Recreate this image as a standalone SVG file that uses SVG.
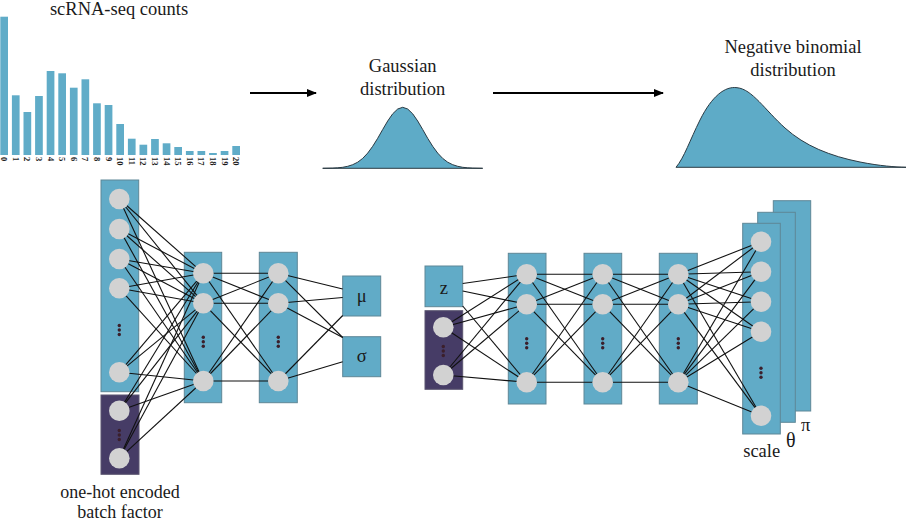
<svg xmlns="http://www.w3.org/2000/svg" width="908" height="522" viewBox="0 0 908 522" font-family="'Liberation Serif', 'Times New Roman', Tinos, 'DejaVu Serif', serif">
<defs>
<style>
text{font-family:'Liberation Serif','Times New Roman',Tinos,'DejaVu Serif',serif}
.t{fill:#1a1a1a;font-size:18.5px;text-anchor:middle}
.tick{font-weight:bold;font-size:8.5px;fill:#1a1a1a;dominant-baseline:central}
.bar{fill:#60acc8}
.lay{fill:#61abc7;stroke:#5e8797;stroke-width:1}
.bat{fill:#463c66;stroke:#5a5570;stroke-width:1}
.nd{fill:#d2d2d2}
.dt{fill:#3b1f2b}
.cn line{stroke:#111;stroke-width:1.1}
.dist{fill:#5eabc7;stroke:#2b3b44;stroke-width:1}
</style>
<marker id="ah" markerWidth="10" markerHeight="8" refX="9" refY="4" orient="auto" markerUnits="userSpaceOnUse">
<path d="M0,0 L10,4 L0,8 Z" fill="#000"/>
</marker>
<g id="dots"><circle class="dt" cx="0" cy="-4.5" r="1.7"/><circle class="dt" cx="0" cy="0" r="1.7"/><circle class="dt" cx="0" cy="4.5" r="1.7"/></g>
</defs>
<rect width="908" height="522" fill="#fff"/>

<g id="histogram">
<text class="t" x="119" y="14.5">scRNA-seq counts</text>
<rect class="bar" x="0.3" y="16.7" width="7.7" height="138.3"/>
<rect class="bar" x="11.9" y="95.3" width="7.7" height="59.7"/>
<rect class="bar" x="23.5" y="112" width="7.7" height="43"/>
<rect class="bar" x="35.1" y="96" width="7.7" height="59"/>
<rect class="bar" x="46.7" y="71" width="7.7" height="84"/>
<rect class="bar" x="58.3" y="73.3" width="7.7" height="81.7"/>
<rect class="bar" x="69.9" y="87.7" width="7.7" height="67.3"/>
<rect class="bar" x="81.5" y="79.3" width="7.7" height="75.7"/>
<rect class="bar" x="93.1" y="103.3" width="7.7" height="51.7"/>
<rect class="bar" x="104.7" y="105" width="7.7" height="50"/>
<rect class="bar" x="116.3" y="124" width="7.7" height="31"/>
<rect class="bar" x="127.9" y="138.7" width="7.7" height="16.3"/>
<rect class="bar" x="139.5" y="144.7" width="7.7" height="10.3"/>
<rect class="bar" x="151.1" y="139" width="7.7" height="16"/>
<rect class="bar" x="162.7" y="143.3" width="7.7" height="11.7"/>
<rect class="bar" x="174.3" y="147" width="7.7" height="8"/>
<rect class="bar" x="185.9" y="151" width="7.7" height="4"/>
<rect class="bar" x="197.5" y="151" width="7.7" height="4"/>
<rect class="bar" x="209.1" y="153" width="7.7" height="2"/>
<rect class="bar" x="220.7" y="151" width="7.7" height="4"/>
<rect class="bar" x="232.3" y="146" width="7.7" height="9"/>
<g class="tick">
<text class="tick" transform="translate(4.2,157) rotate(90)">0</text>
<text class="tick" transform="translate(15.8,157) rotate(90)">1</text>
<text class="tick" transform="translate(27.4,157) rotate(90)">2</text>
<text class="tick" transform="translate(39,157) rotate(90)">3</text>
<text class="tick" transform="translate(50.6,157) rotate(90)">4</text>
<text class="tick" transform="translate(62.2,157) rotate(90)">5</text>
<text class="tick" transform="translate(73.8,157) rotate(90)">6</text>
<text class="tick" transform="translate(85.4,157) rotate(90)">7</text>
<text class="tick" transform="translate(97,157) rotate(90)">8</text>
<text class="tick" transform="translate(108.6,157) rotate(90)">9</text>
<text class="tick" transform="translate(120.2,157) rotate(90)">10</text>
<text class="tick" transform="translate(131.8,157) rotate(90)">11</text>
<text class="tick" transform="translate(143.4,157) rotate(90)">12</text>
<text class="tick" transform="translate(155,157) rotate(90)">13</text>
<text class="tick" transform="translate(166.6,157) rotate(90)">14</text>
<text class="tick" transform="translate(178.2,157) rotate(90)">15</text>
<text class="tick" transform="translate(189.8,157) rotate(90)">16</text>
<text class="tick" transform="translate(201.4,157) rotate(90)">17</text>
<text class="tick" transform="translate(213,157) rotate(90)">18</text>
<text class="tick" transform="translate(224.6,157) rotate(90)">19</text>
<text class="tick" transform="translate(236.2,157) rotate(90)">20</text>
</g>
</g>

<g id="gaussian">
<text class="t" x="402.7" y="72">Gaussian</text>
<text class="t" x="402.7" y="95">distribution</text>
<path class="dist" d="M322.7,168.3 L332.7,168.1 L337.7,167.8 L342.7,167.3 L347.7,166.3 L352.7,164.7 L357.7,162.2 L362.7,158.4 L367.7,153.1 L372.7,146.3 L377.7,138.3 L382.7,129.5 L387.7,121 L392.7,113.8 L397.7,109 L402.7,107.3 L407.7,109 L412.7,113.8 L417.7,121 L422.7,129.5 L427.7,138.3 L432.7,146.3 L437.7,153.1 L442.7,158.4 L447.7,162.2 L452.7,164.7 L457.7,166.3 L462.7,167.3 L467.7,167.8 L472.7,168.1 L482.7,168.3 Z" stroke-linejoin="round"/>
</g>

<g id="negbinom">
<text class="t" x="793" y="53">Negative binomial</text>
<text class="t" x="793" y="76">distribution</text>
<path class="dist" d="M676,167.3 C684,158 690,140 700,120 C712,96 725,86 737,87.7 C752,89 765,110 785,128 C805,146 830,156 860,162 C880,166 895,167 906,167.3 Z"/>
</g>

<g id="flow-arrows" stroke="#000" stroke-width="2">
<line x1="250" y1="93" x2="316" y2="93" marker-end="url(#ah)"/>
<line x1="493" y1="93" x2="663" y2="93" marker-end="url(#ah)"/>
</g>

<g id="enc-input"><rect class="lay" x="101" y="180" width="37.7" height="211.7"/></g>
<g id="enc-batch"><rect class="bat" x="101" y="395" width="38" height="79.3"/></g>
<g id="enc-h1"><rect class="lay" x="184.3" y="252.3" width="37.4" height="150.4"/></g>
<g id="enc-h2"><rect class="lay" x="259.3" y="252.3" width="38" height="150.4"/></g>
<g id="mu"><rect class="lay" x="342.7" y="276" width="38" height="40"/><text class="t" x="361.7" y="302">μ</text></g>
<g id="sigma"><rect class="lay" x="342.7" y="336.7" width="38" height="40"/><text class="t" x="361.7" y="362">σ</text></g>
<g id="z"><rect class="lay" x="425" y="266" width="37.7" height="40.7"/><text class="t" x="443.8" y="294">z</text></g>
<g id="dec-batch"><rect class="bat" x="425" y="310.7" width="37.7" height="78.6"/></g>
<g id="dec-h1"><rect class="lay" x="508.3" y="253.3" width="37.7" height="150.7"/></g>
<g id="dec-h2"><rect class="lay" x="584" y="253.3" width="37.7" height="150.7"/></g>
<g id="dec-h3"><rect class="lay" x="659.3" y="253.3" width="38" height="150.7"/></g>
<g id="out-pi"><rect class="lay" x="773.3" y="200.7" width="37.4" height="210.3"/></g>
<g id="out-theta"><rect class="lay" x="757.7" y="212.3" width="37.6" height="210"/></g>
<g id="out-scale"><rect class="lay" x="742.7" y="223.3" width="37.6" height="210.7"/></g>

<g id="connectors" class="cn">
<line x1="119.3" y1="199" x2="203.3" y2="273.3"/><line x1="119.3" y1="199" x2="203.3" y2="303.3"/><line x1="119.3" y1="199" x2="203.3" y2="381"/>
<line x1="119.3" y1="229" x2="203.3" y2="273.3"/><line x1="119.3" y1="229" x2="203.3" y2="303.3"/><line x1="119.3" y1="229" x2="203.3" y2="381"/>
<line x1="119.3" y1="259" x2="203.3" y2="273.3"/><line x1="119.3" y1="259" x2="203.3" y2="303.3"/><line x1="119.3" y1="259" x2="203.3" y2="381"/>
<line x1="119.3" y1="288.3" x2="203.3" y2="273.3"/><line x1="119.3" y1="288.3" x2="203.3" y2="303.3"/><line x1="119.3" y1="288.3" x2="203.3" y2="381"/>
<line x1="119.3" y1="372.3" x2="203.3" y2="273.3"/><line x1="119.3" y1="372.3" x2="203.3" y2="303.3"/><line x1="119.3" y1="372.3" x2="203.3" y2="381"/>
<line x1="119.3" y1="410.7" x2="203.3" y2="273.3"/><line x1="119.3" y1="410.7" x2="203.3" y2="303.3"/><line x1="119.3" y1="410.7" x2="203.3" y2="381"/>
<line x1="119.3" y1="458.3" x2="203.3" y2="273.3"/><line x1="119.3" y1="458.3" x2="203.3" y2="303.3"/><line x1="119.3" y1="458.3" x2="203.3" y2="381"/>
<line x1="203.3" y1="273.3" x2="278.3" y2="273.3"/><line x1="203.3" y1="273.3" x2="278.3" y2="303.3"/><line x1="203.3" y1="273.3" x2="278.3" y2="381"/>
<line x1="203.3" y1="303.3" x2="278.3" y2="273.3"/><line x1="203.3" y1="303.3" x2="278.3" y2="303.3"/><line x1="203.3" y1="303.3" x2="278.3" y2="381"/>
<line x1="203.3" y1="381" x2="278.3" y2="273.3"/><line x1="203.3" y1="381" x2="278.3" y2="303.3"/><line x1="203.3" y1="381" x2="278.3" y2="381"/>
<line x1="278.3" y1="273.3" x2="342.7" y2="289"/><line x1="278.3" y1="303.3" x2="342.7" y2="297.5"/><line x1="278.3" y1="381" x2="342.7" y2="315.5"/>
<line x1="278.3" y1="273.3" x2="342.7" y2="337.5"/><line x1="278.3" y1="303.3" x2="342.7" y2="337.5"/><line x1="278.3" y1="381" x2="342.7" y2="361.7"/>
<line x1="462.7" y1="283.5" x2="526.7" y2="274.3"/><line x1="462.7" y1="291" x2="526.7" y2="304.3"/><line x1="462.7" y1="306" x2="526.7" y2="382.3"/>
<line x1="443.3" y1="327.3" x2="526.7" y2="274.3"/><line x1="443.3" y1="327.3" x2="526.7" y2="304.3"/><line x1="443.3" y1="327.3" x2="526.7" y2="382.3"/>
<line x1="443.3" y1="375" x2="526.7" y2="274.3"/><line x1="443.3" y1="375" x2="526.7" y2="304.3"/><line x1="443.3" y1="375" x2="526.7" y2="382.3"/>
<line x1="526.7" y1="274.3" x2="602.7" y2="274.3"/><line x1="526.7" y1="274.3" x2="602.7" y2="304.3"/><line x1="526.7" y1="274.3" x2="602.7" y2="382.3"/>
<line x1="526.7" y1="304.3" x2="602.7" y2="274.3"/><line x1="526.7" y1="304.3" x2="602.7" y2="304.3"/><line x1="526.7" y1="304.3" x2="602.7" y2="382.3"/>
<line x1="526.7" y1="382.3" x2="602.7" y2="274.3"/><line x1="526.7" y1="382.3" x2="602.7" y2="304.3"/><line x1="526.7" y1="382.3" x2="602.7" y2="382.3"/>
<line x1="602.7" y1="274.3" x2="678.3" y2="274.3"/><line x1="602.7" y1="274.3" x2="678.3" y2="304.3"/><line x1="602.7" y1="274.3" x2="678.3" y2="382.3"/>
<line x1="602.7" y1="304.3" x2="678.3" y2="274.3"/><line x1="602.7" y1="304.3" x2="678.3" y2="304.3"/><line x1="602.7" y1="304.3" x2="678.3" y2="382.3"/>
<line x1="602.7" y1="382.3" x2="678.3" y2="274.3"/><line x1="602.7" y1="382.3" x2="678.3" y2="304.3"/><line x1="602.7" y1="382.3" x2="678.3" y2="382.3"/>
<line x1="678.3" y1="274.3" x2="761" y2="241.7"/><line x1="678.3" y1="274.3" x2="761" y2="271.7"/><line x1="678.3" y1="274.3" x2="761" y2="301.7"/><line x1="678.3" y1="274.3" x2="761" y2="331.7"/><line x1="678.3" y1="274.3" x2="761" y2="415.7"/>
<line x1="678.3" y1="304.3" x2="761" y2="241.7"/><line x1="678.3" y1="304.3" x2="761" y2="271.7"/><line x1="678.3" y1="304.3" x2="761" y2="301.7"/><line x1="678.3" y1="304.3" x2="761" y2="331.7"/><line x1="678.3" y1="304.3" x2="761" y2="415.7"/>
<line x1="678.3" y1="382.3" x2="761" y2="241.7"/><line x1="678.3" y1="382.3" x2="761" y2="271.7"/><line x1="678.3" y1="382.3" x2="761" y2="301.7"/><line x1="678.3" y1="382.3" x2="761" y2="331.7"/><line x1="678.3" y1="382.3" x2="761" y2="415.7"/>
</g>

<g id="enc-input-nodes">
<circle class="nd" cx="119.3" cy="199" r="10.3"/><circle class="nd" cx="119.3" cy="229" r="10.3"/><circle class="nd" cx="119.3" cy="259" r="10.3"/><circle class="nd" cx="119.3" cy="288.3" r="10.3"/><use href="#dots" x="119.3" y="330"/><circle class="nd" cx="119.3" cy="372.3" r="10.3"/>
</g>
<g id="enc-batch-nodes">
<circle class="nd" cx="119.3" cy="410.7" r="10.3"/><use href="#dots" x="119.3" y="435"/><circle class="nd" cx="119.3" cy="458.3" r="10.3"/>
</g>
<g id="enc-h1-nodes">
<circle class="nd" cx="203.3" cy="273.3" r="10.3"/><circle class="nd" cx="203.3" cy="303.3" r="10.3"/><use href="#dots" x="203.3" y="341.7"/><circle class="nd" cx="203.3" cy="381" r="10.3"/>
</g>
<g id="enc-h2-nodes">
<circle class="nd" cx="278.3" cy="273.3" r="10.3"/><circle class="nd" cx="278.3" cy="303.3" r="10.3"/><use href="#dots" x="278.3" y="341.7"/><circle class="nd" cx="278.3" cy="381" r="10.3"/>
</g>
<g id="dec-batch-nodes">
<circle class="nd" cx="443.3" cy="327.3" r="10.3"/><use href="#dots" x="443.3" y="351"/><circle class="nd" cx="443.3" cy="375" r="10.3"/>
</g>
<g id="dec-h1-nodes">
<circle class="nd" cx="526.7" cy="274.3" r="10.3"/><circle class="nd" cx="526.7" cy="304.3" r="10.3"/><use href="#dots" x="526.7" y="343.3"/><circle class="nd" cx="526.7" cy="382.3" r="10.3"/>
</g>
<g id="dec-h2-nodes">
<circle class="nd" cx="602.7" cy="274.3" r="10.3"/><circle class="nd" cx="602.7" cy="304.3" r="10.3"/><use href="#dots" x="602.7" y="343.3"/><circle class="nd" cx="602.7" cy="382.3" r="10.3"/>
</g>
<g id="dec-h3-nodes">
<circle class="nd" cx="678.3" cy="274.3" r="10.3"/><circle class="nd" cx="678.3" cy="304.3" r="10.3"/><use href="#dots" x="678.3" y="343.3"/><circle class="nd" cx="678.3" cy="382.3" r="10.3"/>
</g>
<g id="out-scale-nodes">
<circle class="nd" cx="761" cy="241.7" r="10.3"/><circle class="nd" cx="761" cy="271.7" r="10.3"/><circle class="nd" cx="761" cy="301.7" r="10.3"/><circle class="nd" cx="761" cy="331.7" r="10.3"/><use href="#dots" x="761" y="372.7"/><circle class="nd" cx="761" cy="415.7" r="10.3"/>
</g>

<g id="labels">
<text class="t" x="120" y="497.5" style="font-size:18px">one-hot encoded</text>
<text class="t" x="120" y="517.5" style="font-size:18px">batch factor</text>
<text class="t" x="761.7" y="457">scale</text>
<text class="t" x="790.7" y="447" style="font-size:20px">θ</text>
<text class="t" x="805.7" y="431">π</text>
</g>
</svg>
